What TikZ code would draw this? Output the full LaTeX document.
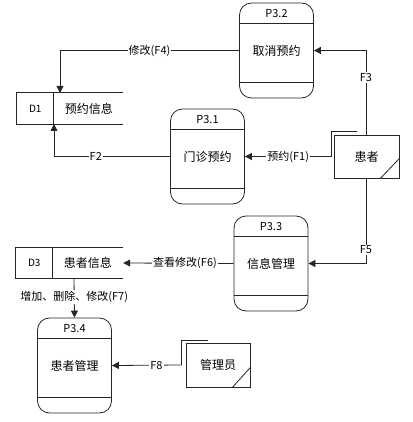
\documentclass[tikz,border=0pt]{standalone}
\usepackage{fontspec}
\setmainfont{Noto Sans CJK SC}
\usetikzlibrary{arrows.meta,calc}
\tikzset{
  proc/.style={draw=black!85, line width=0.8pt, rounded corners=12pt, minimum width=74pt, minimum height=95pt, inner sep=0pt, font=\fontsize{12}{14}\selectfont},
  ent/.style={draw=black!85, line width=0.8pt, fill=white, inner sep=0pt, font=\fontsize{12}{14}\selectfont},
  store/.style={inner sep=0pt},
  ln/.style={draw=black!85, line width=0.8pt},
  flow/.style={draw=black!85, line width=0.8pt, -{Triangle[length=7pt,width=7pt]}},
  lbl/.style={fill=white, inner sep=1pt, font=\fontsize{11}{13}\selectfont},
  ttl/.style={font=\fontsize{11}{13}\selectfont, inner sep=0pt},
}
\begin{document}
\begin{tikzpicture}[x=1pt,y=-1pt]
\useasboundingbox (0,0) rectangle (412,422);
% processes
\node[proc] (p32) at (276.5,50.5) {取消预约};
\node[proc] (p31) at (207.5,156.5) {门诊预约};
\node[proc] (p33) at (271,263.5) {信息管理};
\node[proc] (p34) at (74.5,365.5) {患者管理};
\foreach \p/\t in {p32/P3.2, p31/P3.1, p33/P3.3, p34/P3.4}{
  \draw[ln] ($(\p.north west)+(0,21)$) -- ($(\p.north east)+(0,21)$);
  \draw[ln] ($(\p.south west)+(0,-16)$) -- ($(\p.south east)+(0,-16)$);
  \node[ttl] (\p t) at ($(\p.north)+(0,10.5)$) {\t};
}
% stores
\node[store, minimum width=106pt, minimum height=31pt] (d1) at (70,108.5) {};
\node[store, minimum width=107pt, minimum height=30pt] (d3) at (69.5,263) {};
\foreach \d/\n/\t in {d1/D1/预约信息, d3/D3/患者信息}{
  \draw[ln] (\d.north east) -- (\d.north west) -- (\d.south west) -- (\d.south east);
  \draw[ln] ($(\d.north west)+(37,0)$) -- ($(\d.south west)+(37,0)$);
  \node[font=\fontsize{10}{12}\selectfont, inner sep=0pt] (\d id) at ($(\d.west)+(18.5,0)$) {\n};
  \node[font=\fontsize{12}{14}\selectfont, inner sep=0pt] (\d name) at ($(\d.west)+(72,0)$) {\t};
}
% entities
\node[ent, minimum width=65pt, minimum height=43pt] (hz) at (366.5,156.5) {患者};
\coordinate (hzs) at ($(hz.west)+(-2,0)$);
\draw[ln] (hzs) -- ($(hz.north west)+(-2,-3)$) -- ($(hz.north west)+(23,-3)$);
\draw[ln] ($(hz.south east)+(-19,0)$) -- ($(hz.south east)+(0,-20)$);
\node[ent, minimum width=64pt, minimum height=44pt] (gly) at (218,365) {管理员};
\coordinate (glys) at ($(gly.west)+(-4,0)$);
\draw[ln] (glys) -- ($(gly.north west)+(-4,-2)$) -- ($(gly.north west)+(22,-2)$);
\draw[ln] ($(gly.south east)+(-18,0)$) -- ($(gly.south east)+(0,-20)$);
% connector coordinates
\coordinate (d1a) at (60,93);
\coordinate (d1b) at (54,124);
\coordinate (hzt) at (366,135);
\coordinate (hzb) at (366,178);
\coordinate (d3b) at (74,278);
% flows
\draw[flow] (p32.west) -| node[lbl, pos=0.25] {修改(F4)} (d1a);
\draw[flow] (p31.west) -| node[lbl, pos=0.32] {F2} (d1b);
\draw[flow] (hzs) -- node[lbl, pos=0.5] {预约(F1)} (p31.east);
\draw[flow] (hzt) |- node[lbl, pos=0.34] {F3} (p32.east);
\draw[flow] (hzb) |- node[lbl, pos=0.42] {F5} (p33.east);
\draw[flow] (p33.west) -- node[lbl, pos=0.44] {查看修改(F6)} (d3.east);
\draw[flow] (d3b) -- node[lbl, pos=0.48] {增加、删除、修改(F7)} (p34.north);
\draw[flow] (glys) -- node[lbl, pos=0.36] {F8} (p34.east);
\end{tikzpicture}
\end{document}
